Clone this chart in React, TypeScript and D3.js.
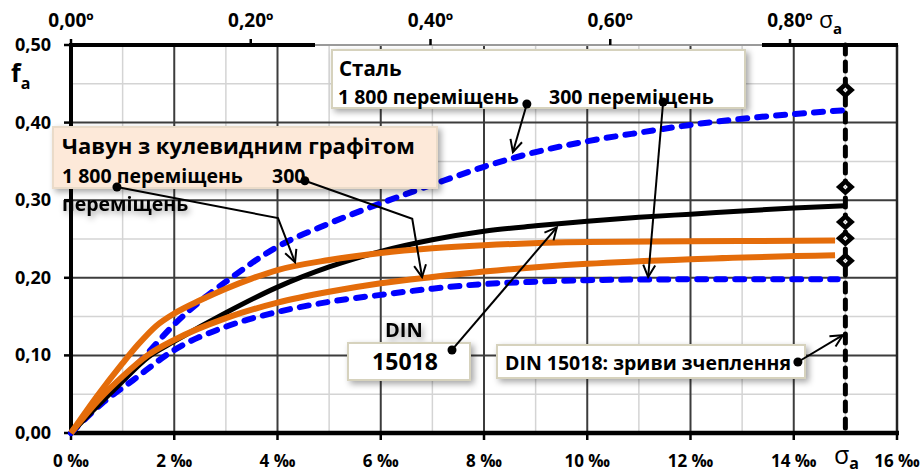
import React from 'react'
import * as d3 from 'd3'

// x: sigma_a in ‰, y: f_a
const steel1800: [number, number][] = [
  [0, 0], [0.5, 0.035], [1, 0.068], [1.5, 0.104], [2, 0.14], [2.6, 0.175], [3, 0.195],
  [4, 0.24], [5, 0.27], [6, 0.296], [7, 0.32], [8, 0.343], [9, 0.362], [10, 0.376],
  [11, 0.387], [12, 0.397], [13, 0.405], [14, 0.411], [15, 0.416],
]
const steel300: [number, number][] = [
  [0, 0], [0.6, 0.038], [1.2, 0.068], [2, 0.107], [3, 0.137], [4, 0.156],
  [5, 0.169], [6, 0.178], [7, 0.186], [8, 0.192], [9, 0.195], [10, 0.197], [12, 0.198],
  [14, 0.198], [14.85, 0.198],
]
const din15018: [number, number][] = [
  [0, 0], [0.5, 0.034], [0.9, 0.06], [1.5, 0.098], [2, 0.118], [3, 0.155], [4, 0.188],
  [5, 0.214], [6, 0.234], [7, 0.249], [8, 0.26], [9, 0.267], [10, 0.273], [11, 0.278],
  [12, 0.282], [13, 0.286], [14, 0.29], [15, 0.293],
]
const castIron1800: [number, number][] = [
  [0, 0], [0.5, 0.047], [1, 0.09], [1.3, 0.114], [1.65, 0.138], [2, 0.154], [2.5, 0.171],
  [3, 0.186], [3.5, 0.199], [4, 0.21], [5, 0.223], [6, 0.232], [7, 0.238], [8, 0.242],
  [10, 0.246], [12, 0.247], [14.8, 0.248],
]
const castIron300: [number, number][] = [
  [0, 0], [0.5, 0.04], [1, 0.073], [1.5, 0.101], [2, 0.12], [3, 0.148], [4, 0.168],
  [5, 0.182], [6, 0.193], [7, 0.201], [8, 0.208], [10, 0.218], [12, 0.224], [14.8, 0.229],
]
// slip limits (diamonds) at sigma_a = 15 ‰
const slipSigma = 15
const slipValues = [0.442, 0.317, 0.272, 0.251, 0.222]

const xTicks = [0, 2, 4, 6, 8, 10, 12, 14, 16]
const yTicks = [0, 0.1, 0.2, 0.3, 0.4, 0.5]
const topTicks = [0, 0.2, 0.4, 0.6, 0.8]

// leader lines in data coordinates, last point gets the arrow
const leaders: [number, number][][] = [
  [[8.83, 0.424], [8.56, 0.362]],
  [[11.47, 0.4265], [11.18, 0.201]],
  [[0.89, 0.317], [4.01, 0.277], [4.34, 0.22]],
  [[4.53, 0.325], [6.61, 0.276], [6.8, 0.201]],
  [[7.38, 0.107], [9.41, 0.265]],
  [[14.08, 0.0915], [14.95, 0.126]],
]

const FONT = '"Open Sans", "DejaVu Sans", sans-serif'
const fmt = (v: number) => v.toFixed(2).replace('.', ',')

const App: React.FC = () => {
  const W = 922
  const H = 473
  const x = d3.scaleLinear().domain([0, 16]).range([71, 897])
  const y = d3.scaleLinear().domain([0, 0.5]).range([433, 45])
  const xTop = d3.scaleLinear().domain([0, 0.8]).range([71, 790])

  const line = d3.line<[number, number]>()
    .x(d => x(d[0]))
    .y(d => y(d[1]))
    .curve(d3.curveMonotoneX)
  const poly = d3.line<[number, number]>().x(d => x(d[0])).y(d => y(d[1]))

  const minorX = d3.range(1, 16, 2)
  const minorY = d3.range(0.05, 0.5, 0.1)
  const majorX = d3.range(2, 16, 2)
  const majorY = d3.range(0.1, 0.5, 0.1)

  const orange = '#E46C0A'
  const blue = '#0000FF'

  return (
    <svg width={W} height={H} style={{ position: 'absolute', left: 0, top: 0 }}
      fontFamily={FONT} fontWeight="bold">
      <defs>
        <filter id="sh" x="-10%" y="-20%" width="130%" height="160%">
          <feDropShadow dx="3" dy="3" stdDeviation="3" floodColor="#000" floodOpacity="0.35" />
        </filter>
        <filter id="tsh" x="-10%" y="-40%" width="130%" height="200%">
          <feDropShadow dx="2" dy="3" stdDeviation="3" floodColor="#000" floodOpacity="0.35" />
        </filter>
        <marker id="arr" markerUnits="userSpaceOnUse" markerWidth="30" markerHeight="30"
          refX="15" refY="15" orient="auto" viewBox="0 0 30 30">
          <path d="M3,9 L15,15 L3,21" fill="none" stroke="#000" strokeWidth="2" />
        </marker>
      </defs>
      <rect width={W} height={H} fill="#fff" />

      {/* grid */}
      {minorX.map(v => (
        <line key={'mx' + v} x1={x(v)} x2={x(v)} y1={y(0.5)} y2={y(0)} stroke="#d4d4d4" strokeWidth={1.5} />
      ))}
      {minorY.map(v => (
        <line key={'my' + v} x1={x(0)} x2={x(16)} y1={y(v)} y2={y(v)} stroke="#d4d4d4" strokeWidth={1.5} />
      ))}
      {majorX.map(v => (
        <line key={'Mx' + v} x1={x(v)} x2={x(v)} y1={y(0.5)} y2={y(0)} stroke="#3c3c3c" strokeWidth={2} />
      ))}
      {majorY.map(v => (
        <line key={'My' + v} x1={x(0)} x2={x(16)} y1={y(v)} y2={y(v)} stroke="#3c3c3c" strokeWidth={2} />
      ))}

      {/* frame */}
      <line x1={x(16)} x2={x(16)} y1={y(0.5)} y2={y(0)} stroke="#222" strokeWidth={2.5} />
      <line x1={x(0) - 1} x2={315} y1={y(0.5)} y2={y(0.5)} stroke="#000" strokeWidth={4} />
      <line x1={315} x2={762} y1={y(0.5)} y2={y(0.5)} stroke="#9a9a9a" strokeWidth={2} />
      <line x1={762} x2={x(16) + 1} y1={y(0.5)} y2={y(0.5)} stroke="#000" strokeWidth={4} />
      <line x1={x(0)} x2={x(0)} y1={y(0.5) - 2} y2={y(0) + 2} stroke="#000" strokeWidth={4} />
      <line x1={x(0) - 2} x2={x(16) + 2} y1={y(0)} y2={y(0)} stroke="#000" strokeWidth={4.5} />

      {/* ticks */}
      {xTicks.map(v => (
        <line key={'xt' + v} x1={x(v)} x2={x(v)} y1={y(0)} y2={y(0) + 7} stroke="#000" strokeWidth={2.5} />
      ))}
      {yTicks.map(v => (
        <line key={'yt' + v} x1={x(0) - 7} x2={x(0)} y1={y(v)} y2={y(v)} stroke="#000" strokeWidth={2.5} />
      ))}
      {topTicks.map(v => (
        <line key={'tt' + v} x1={xTop(v)} x2={xTop(v)} y1={y(0.5) - 6} y2={y(0.5)} stroke="#000" strokeWidth={2.5} />
      ))}

      {/* tick labels */}
      {xTicks.map(v => (
        <text key={'xl' + v} x={x(v)} y={467} fontSize={17} textAnchor="middle">{v} ‰</text>
      ))}
      {yTicks.map(v => (
        <text key={'yl' + v} x={51} y={y(v) + 6} fontSize={18} textAnchor="end">{fmt(v)}</text>
      ))}
      {topTicks.map(v => (
        <text key={'tl' + v} x={xTop(v)} y={27} fontSize={19} textAnchor="middle">{fmt(v)}º</text>
      ))}

      {/* axis titles */}
      <text x={11} y={82} fontSize={25}>f<tspan fontSize={16} dy={7}>a</tspan></text>
      <text x={819} y={28} fontSize={23} fontWeight="normal">σ<tspan fontSize={15} dy={6} fontWeight="bold">a</tspan></text>
      <text x={834} y={464} fontSize={25} fontWeight="normal">σ<tspan fontSize={16} dy={5} fontWeight="bold">a</tspan></text>

      {/* σa limit line */}
      <line x1={x(slipSigma)} x2={x(slipSigma)} y1={y(0.5)} y2={y(0)} stroke="#000" strokeWidth={5}
        strokeDasharray="9 8" strokeLinecap="round" />

      {/* curves */}
      <path d={line(steel300) ?? ''} fill="none" stroke={blue} strokeWidth={6}
        strokeDasharray="9 10" strokeLinecap="round" />
      <path d={line(steel1800) ?? ''} fill="none" stroke={blue} strokeWidth={6}
        strokeDasharray="9 10" strokeLinecap="round" />
      <path d={line(din15018) ?? ''} fill="none" stroke="#000" strokeWidth={5} />
      <path d={line(castIron300) ?? ''} fill="none" stroke={orange} strokeWidth={6} />
      <path d={line(castIron1800) ?? ''} fill="none" stroke={orange} strokeWidth={6} />

      {/* diamonds */}
      {slipValues.map((v, i) => (
        <g key={'d' + i} transform={`translate(${x(slipSigma)},${y(v)})`}>
          <path d="M0,-8.5 L9.5,0 L0,8.5 L-9.5,0 Z" fill="#000" />
          <path d="M0,-2.5 L2.5,0 L0,2.5 L-2.5,0 Z" fill="#fff" />
          <circle r={0.8} fill="#999" />
        </g>
      ))}

      {/* Сталь box */}
      <rect x={332} y={50} width={413} height={58} fill="#fff" stroke="#d6d2bd" strokeWidth={2} filter="url(#sh)" />
      <text x={339} y={76} fontSize={20.5}>Сталь</text>
      <text x={338} y={104} fontSize={19.5}>1 800 переміщень</text>
      <text x={549} y={104} fontSize={19.5}>300 переміщень</text>

      {/* Чавун box */}
      <rect x={53} y={127} width={384} height={61} fill="#FDE9D9" stroke="#eadbc9" strokeWidth={2} filter="url(#sh)" />
      <text x={62} y={154} fontSize={22}>Чавун з кулевидним графітом</text>
      <text x={62} y={183} fontSize={19.5}>1 800 переміщень</text>
      <text x={272} y={183} fontSize={19.5}>300</text>
      <text x={62} y={211} fontSize={19.5} filter="url(#tsh)">переміщень</text>

      {/* DIN 15018 box */}
      <text x={385} y={337} fontSize={20} filter="url(#tsh)">DIN</text>
      <rect x={348} y={343} width={122} height={37} fill="#fff" stroke="#d6d2bd" strokeWidth={2} filter="url(#sh)" />
      <text x={405} y={370} fontSize={23} textAnchor="middle">15018</text>

      {/* slip box */}
      <rect x={497} y={345} width={308} height={33} fill="#fff" stroke="#d6d2bd" strokeWidth={2} filter="url(#sh)" />
      <text x={505} y={370} fontSize={19.5}>DIN 15018: зриви зчеплення</text>

      {/* leaders */}
      {leaders.map((pts, i) => (
        <g key={'l' + i}>
          <path d={poly(pts) ?? ''} fill="none" stroke="#000" strokeWidth={2} markerEnd="url(#arr)" />
          <circle cx={x(pts[0][0])} cy={y(pts[0][1])} r={4.5} fill="#000" />
        </g>
      ))}
    </svg>
  )
}

export default App
